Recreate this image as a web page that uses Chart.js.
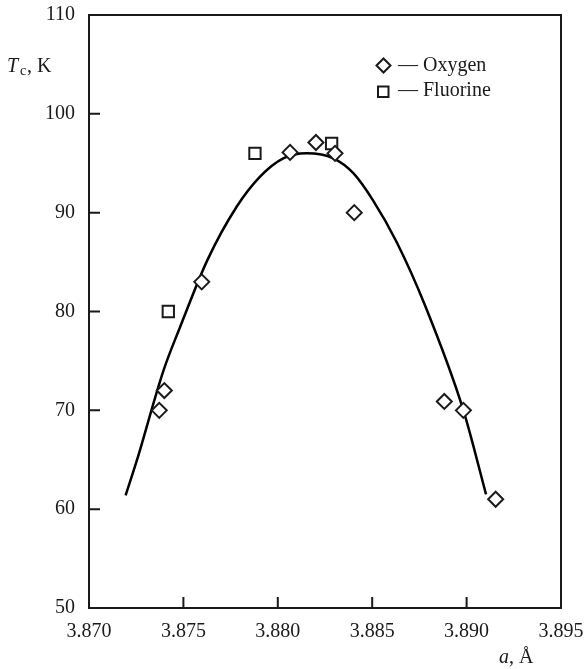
<!DOCTYPE html>
<html>
<head>
<meta charset="utf-8">
<script src="https://cdn.jsdelivr.net/npm/chart.js@4"></script>
<style>
  html, body { margin: 0; padding: 0; background: #fff; }
  #wrap { width: 587px; height: 669px; }
</style>
</head>
<body>
<div id="wrap"><canvas id="tcChart" width="587" height="669"></canvas></div>
<script>
// values
var oxygenA  = [3.87372, 3.87399, 3.87597, 3.88065, 3.88202, 3.88303, 3.88405, 3.88882, 3.88983, 3.89154];
var oxygenTc = [70.0, 72.0, 83.0, 96.1, 97.1, 96.0, 90.0, 70.9, 70.0, 61.0];

var fluorineA  = [3.87420, 3.87879, 3.88285];
var fluorineTc = [80.0, 96.0, 97.0];

var curveA  = [3.87194, 3.87253, 3.87394, 3.87482, 3.87627, 3.87782, 3.87906, 3.88029, 3.88153, 3.88294, 3.88400, 3.88506, 3.88630, 3.88780, 3.88983, 3.89103];
var curveTc = [61.4, 64.9, 74.0, 78.4, 85.2, 90.6, 93.65, 95.5, 96.0, 95.5, 94.0, 91.2, 87.0, 80.6, 70.0, 61.5];

var xTicks = [3.870, 3.875, 3.880, 3.885, 3.890, 3.895];
var yTicks = [50, 60, 70, 80, 90, 100, 110];

function toPoints(xs, ys) {
    return xs.map(function(x, i) { return {x: x, y: ys[i]}; });
}

var ink = '#1a1a1a';
var serif = '"Liberation Serif", "DejaVu Serif", serif';

// frame on top/right, inward tick marks, legend and axis titles
var decorations = {
    id: 'decorations',
    afterDraw: function(chart) {
        var c = chart.ctx, a = chart.chartArea;
        var xs = chart.scales.x, ys = chart.scales.y;
        c.save();
        c.strokeStyle = ink;
        c.lineWidth = 2;
        c.beginPath();
        c.moveTo(a.left, a.top); c.lineTo(a.right, a.top); c.lineTo(a.right, a.bottom);
        xTicks.slice(1, -1).forEach(function(v) {
            var px = xs.getPixelForValue(v);
            c.moveTo(px, a.bottom); c.lineTo(px, a.bottom - 11);
        });
        yTicks.slice(1, -1).forEach(function(v) {
            var py = ys.getPixelForValue(v);
            c.moveTo(a.left, py); c.lineTo(a.left + 11, py);
        });
        c.stroke();

        // legend
        c.fillStyle = '#fff';
        c.lineWidth = 2;
        c.beginPath();
        c.moveTo(383.5 - 7, 65.5); c.lineTo(383.5, 58.5); c.lineTo(383.5 + 7, 65.5); c.lineTo(383.5, 72.5);
        c.closePath(); c.fill(); c.stroke();
        c.beginPath();
        c.rect(378, 86.5, 10.5, 10.5);
        c.fill(); c.stroke();

        c.fillStyle = ink;
        c.textBaseline = 'alphabetic';
        c.font = '20px ' + serif;
        c.fillText('\u2014 Oxygen', 398, 71);
        c.fillText('\u2014 Fluorine', 398, 96);

        // y title: Tc, K
        c.font = 'italic 20px ' + serif;
        c.fillText('T', 7, 72);
        c.font = '14px ' + serif;
        c.fillText('c', 20, 75);
        c.font = '20px ' + serif;
        c.fillText(', K', 27, 72);

        // x title: a, Å
        c.font = 'italic 20px ' + serif;
        c.fillText('a', 499, 663);
        c.font = '20px ' + serif;
        c.fillText(', \u00C5', 509, 663);
        c.restore();
    }
};

var ctx = document.getElementById('tcChart').getContext('2d');

var tcChart = new Chart(ctx, {
    type: 'scatter',
    data: {
        datasets: [{
            label: 'Oxygen',
            data: toPoints(oxygenA, oxygenTc),
            pointStyle: 'rectRot',
            pointRadius: 7.5,
            pointBorderWidth: 2,
            pointBorderColor: ink,
            pointBackgroundColor: '#fff'
        }, {
            label: 'Fluorine',
            data: toPoints(fluorineA, fluorineTc),
            pointStyle: 'rect',
            pointRadius: 8,
            pointBorderWidth: 2,
            pointBorderColor: ink,
            pointBackgroundColor: '#fff'
        }, {
            label: 'fit',
            data: toPoints(curveA, curveTc),
            showLine: true,
            borderColor: '#000',
            borderWidth: 2.5,
            pointRadius: 0,
            cubicInterpolationMode: 'monotone',
            fill: false
        }]
    },
    options: {
        responsive: false,
        animation: false,
        layout: {
            padding: {left: 0, right: 26, top: 15, bottom: 0}
        },
        plugins: {
            legend: {display: false},
            tooltip: {enabled: false}
        },
        scales: {
            x: {
                type: 'linear',
                min: 3.870,
                max: 3.895,
                afterBuildTicks: function(scale) {
                    scale.ticks = xTicks.map(function(v) { return {value: v}; });
                },
                afterFit: function(scale) {
                    scale.height = 61;
                    scale.paddingLeft = 0;
                    scale.paddingRight = 0;
                },
                grid: {display: false, drawTicks: false},
                border: {display: true, color: ink, width: 2},
                ticks: {
                    color: ink,
                    padding: 12,
                    maxRotation: 0,
                    font: {family: serif, size: 20},
                    callback: function(v) { return v.toFixed(3); }
                }
            },
            y: {
                min: 50,
                max: 110,
                afterBuildTicks: function(scale) {
                    scale.ticks = yTicks.map(function(v) { return {value: v}; });
                },
                afterFit: function(scale) {
                    scale.width = 89;
                    scale.paddingTop = 0;
                    scale.paddingBottom = 0;
                },
                grid: {display: false, drawTicks: false},
                border: {display: true, color: ink, width: 2},
                ticks: {
                    color: ink,
                    padding: 14,
                    font: {family: serif, size: 20}
                }
            }
        }
    },
    plugins: [decorations]
});
</script>
</body>
</html>
